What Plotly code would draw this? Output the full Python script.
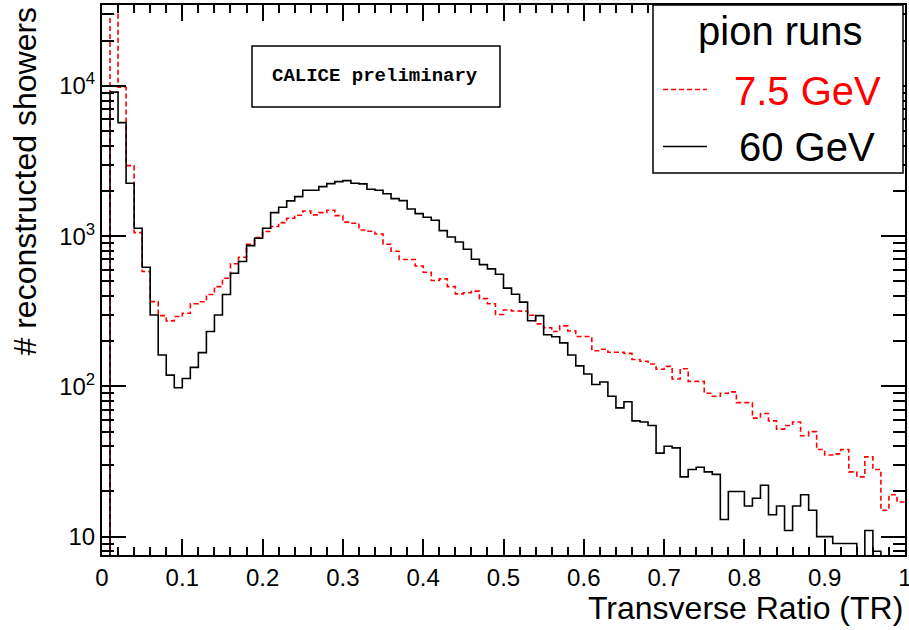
import numpy as np
import plotly.graph_objects as go

# ---------------- data ----------------
bin_width = 0.01
tr_bin_low = [round(i * bin_width, 2) for i in range(100)]   # lower bin edges of TR
tr_max = 1.0

# 7.5 GeV pion runs (red dashed)
showers_7p5GeV = [
    0, 30000, 9800, 2950, 1057, 582, 367, 296, 273, 292,
    307, 355, 366, 409, 462, 525, 655, 725, 885, 980,
    1074, 1160, 1231, 1317, 1380, 1473, 1387, 1436, 1490, 1370,
    1240, 1220, 1101, 1080, 1035, 885, 794, 699, 699, 634,
    576, 507, 520, 462, 413, 420, 431, 384, 355, 301,
    323, 318, 317, 298, 261, 246, 232, 253, 234, 215,
    215, 173, 177, 169, 169, 166, 151, 147, 141, 130,
    136, 112, 131, 108, 108, 90, 86, 90, 92, 78,
    78, 61.5, 66, 59, 52, 55, 58, 47, 50, 38,
    35, 35.6, 38, 27, 25, 34, 28, 15, 19, 17,
]

# 60 GeV pion runs (black solid)
showers_60GeV = [
    0, 9100, 5700, 2250, 1130, 622, 299, 162, 119, 98,
    113, 134, 168, 232, 299, 409, 567, 678, 866, 970,
    1130, 1436, 1560, 1718, 1835, 2023, 2023, 2138, 2240, 2310,
    2343, 2254, 2230, 2055, 2023, 1918, 1778, 1725, 1519, 1413,
    1337, 1277, 1090, 989, 916, 819, 703, 647, 606, 558,
    451, 411, 364, 274, 296, 221, 214, 195, 162, 137,
    121, 103, 107, 86, 72, 79, 59, 58, 55, 36,
    40, 39, 25, 28, 29, 27, 26, 13, 20, 20,
    16, 18, 22, 14, 16, 11, 16, 19, 15, 10,
    10, 9, 9, 9, 0, 11, 8, 0, 0, 0,
]

x_tickvals = [0, 0.1, 0.2, 0.3, 0.4, 0.5, 0.6, 0.7, 0.8, 0.9, 1.0]
x_ticktext = ["0", "0.1", "0.2", "0.3", "0.4", "0.5", "0.6", "0.7", "0.8", "0.9", "1"]
x_minor_vals = [round(0.02 * i, 2) for i in range(51)]

y_tickvals = [10, 100, 1000, 10000]
y_ticktext = ["10", "10<sup>2</sup>", "10<sup>3</sup>", "10<sup>4</sup>"]
y_minor_vals = [8, 9] + [m * d for d in (10, 100, 1000) for m in range(2, 10)] + [20000, 30000]

legend_title = "pion runs"
label_7p5 = "7.5 GeV"
label_60 = "60 GeV"
x_title = "Transverse Ratio (TR)"
y_title = "# reconstructed showers"
stamp = "CALICE preliminary"

# ---------------- figure ----------------
FONT = "Liberation Sans, Arial, Helvetica, sans-serif"
LOG_FLOOR = 1.0  # empty bins are drawn down to (below) the axis minimum, as ROOT does


def step_xy(vals):
    xs = list(tr_bin_low) + [tr_max]
    ys = [v if v > 0 else LOG_FLOOR for v in vals]
    ys = ys + [ys[-1]]
    return xs, ys


fig = go.Figure()
xs, ys = step_xy(showers_7p5GeV)
fig.add_trace(go.Scatter(x=xs, y=ys, mode="lines", line_shape="hv",
                         line=dict(color="#ff0000", width=1.6, dash="5px,3px"),
                         name=label_7p5, showlegend=False))
xs, ys = step_xy(showers_60GeV)
fig.add_trace(go.Scatter(x=xs, y=ys, mode="lines", line_shape="hv",
                         line=dict(color="black", width=1.6),
                         name=label_60, showlegend=False))

W, H = 909, 630
ML, MR, MT, MB = 102, 4, 5, 75
PW, PH = W - ML - MR, H - MT - MB


def px(x):
    return (x - ML) / PW


def py(y):
    return (H - MB - y) / PH


fig.update_layout(
    width=W, height=H,
    margin=dict(l=ML, r=MR, t=MT, b=MB, autoexpand=False),
    paper_bgcolor="white", plot_bgcolor="white",
    font=dict(family=FONT, color="black"),
    showlegend=False,
)

fig.update_xaxes(
    range=[0, 1], showline=True, linewidth=2, linecolor="black", mirror="ticks",
    ticks="inside", ticklen=16, tickwidth=1.5, tickcolor="black",
    tickmode="array", tickvals=x_tickvals, ticktext=x_ticktext,
    tickfont=dict(size=24, family=FONT), showgrid=False, zeroline=False,
    ticklabeloverflow="allow", automargin=False,
    minor=dict(tickmode="array", tickvals=x_minor_vals, ticks="inside", ticklen=8,
               tickwidth=1.5, tickcolor="black", showgrid=False),
)
fig.update_yaxes(
    type="log", range=[0.878, 4.539], showline=True, linewidth=2, linecolor="black",
    mirror="ticks", ticks="inside", ticklen=24, tickwidth=1.5, tickcolor="black",
    tickmode="array", tickvals=y_tickvals, ticktext=y_ticktext,
    tickfont=dict(size=24, family=FONT), showgrid=False, zeroline=False,
    automargin=False,
    minor=dict(tickmode="array", tickvals=y_minor_vals, ticks="inside", ticklen=12,
               tickwidth=1.5, tickcolor="black", showgrid=False),
)

# axis titles (ROOT style: right/top aligned)
fig.add_annotation(text=x_title, xref="paper", yref="paper", x=1.0, y=py(608),
                   xanchor="right", yanchor="middle", showarrow=False,
                   font=dict(size=32, family=FONT))
fig.add_annotation(text=y_title, xref="paper", yref="paper", x=px(24), y=1.0,
                   xanchor="center", yanchor="top", textangle=-90, showarrow=False,
                   font=dict(size=32, family=FONT))

# CALICE preliminary stamp
fig.add_shape(type="rect", xref="paper", yref="paper",
              x0=px(252), x1=px(500), y0=py(107), y1=py(46),
              line=dict(color="black", width=1.5), fillcolor="white")
fig.add_annotation(text="<b>" + stamp + "</b>", xref="paper", yref="paper",
                   x=px(375), y=py(76), xanchor="center", yanchor="middle",
                   showarrow=False, font=dict(size=19, family="Liberation Mono, Courier New, monospace"))

# legend box
fig.add_shape(type="rect", xref="paper", yref="paper",
              x0=px(653), x1=px(903), y0=py(173), y1=1.0,
              line=dict(color="black", width=1.5), fillcolor="white")
fig.add_annotation(text=legend_title, xref="paper", yref="paper", x=px(780), y=py(31),
                   xanchor="center", yanchor="middle", showarrow=False,
                   font=dict(size=40, family=FONT))
fig.add_annotation(text=label_7p5, xref="paper", yref="paper", x=px(807), y=py(91),
                   xanchor="center", yanchor="middle", showarrow=False,
                   font=dict(size=40, family=FONT, color="#ff0000"))
fig.add_annotation(text=label_60, xref="paper", yref="paper", x=px(807), y=py(147),
                   xanchor="center", yanchor="middle", showarrow=False,
                   font=dict(size=40, family=FONT))
fig.add_shape(type="line", xref="paper", yref="paper",
              x0=px(663), x1=px(707), y0=py(89.5), y1=py(89.5),
              line=dict(color="#ff0000", width=1.5, dash="5px,3px"))
fig.add_shape(type="line", xref="paper", yref="paper",
              x0=px(663), x1=px(707), y0=py(146.5), y1=py(146.5),
              line=dict(color="black", width=1.5))

fig.write_html("out.html")
